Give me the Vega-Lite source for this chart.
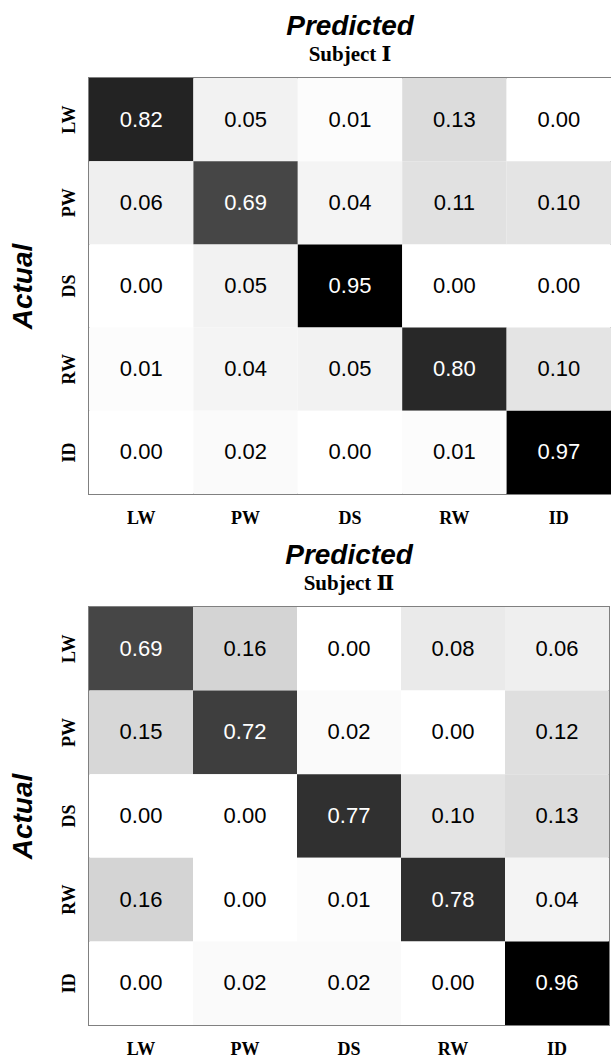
{
  "$schema": "https://vega.github.io/schema/vega-lite/v6.json",
  "padding": {"left": 7, "top": 12, "right": 0, "bottom": 0},
  "background": "white",
  "spacing": 13,
  "data": {"values": [
    {"subject": "I", "actual": "LW", "predicted": "LW", "value": 0.82},
    {"subject": "I", "actual": "LW", "predicted": "PW", "value": 0.05},
    {"subject": "I", "actual": "LW", "predicted": "DS", "value": 0.01},
    {"subject": "I", "actual": "LW", "predicted": "RW", "value": 0.13},
    {"subject": "I", "actual": "LW", "predicted": "ID", "value": 0.00},
    {"subject": "I", "actual": "PW", "predicted": "LW", "value": 0.06},
    {"subject": "I", "actual": "PW", "predicted": "PW", "value": 0.69},
    {"subject": "I", "actual": "PW", "predicted": "DS", "value": 0.04},
    {"subject": "I", "actual": "PW", "predicted": "RW", "value": 0.11},
    {"subject": "I", "actual": "PW", "predicted": "ID", "value": 0.10},
    {"subject": "I", "actual": "DS", "predicted": "LW", "value": 0.00},
    {"subject": "I", "actual": "DS", "predicted": "PW", "value": 0.05},
    {"subject": "I", "actual": "DS", "predicted": "DS", "value": 0.95},
    {"subject": "I", "actual": "DS", "predicted": "RW", "value": 0.00},
    {"subject": "I", "actual": "DS", "predicted": "ID", "value": 0.00},
    {"subject": "I", "actual": "RW", "predicted": "LW", "value": 0.01},
    {"subject": "I", "actual": "RW", "predicted": "PW", "value": 0.04},
    {"subject": "I", "actual": "RW", "predicted": "DS", "value": 0.05},
    {"subject": "I", "actual": "RW", "predicted": "RW", "value": 0.80},
    {"subject": "I", "actual": "RW", "predicted": "ID", "value": 0.10},
    {"subject": "I", "actual": "ID", "predicted": "LW", "value": 0.00},
    {"subject": "I", "actual": "ID", "predicted": "PW", "value": 0.02},
    {"subject": "I", "actual": "ID", "predicted": "DS", "value": 0.00},
    {"subject": "I", "actual": "ID", "predicted": "RW", "value": 0.01},
    {"subject": "I", "actual": "ID", "predicted": "ID", "value": 0.97},
    {"subject": "II", "actual": "LW", "predicted": "LW", "value": 0.69},
    {"subject": "II", "actual": "LW", "predicted": "PW", "value": 0.16},
    {"subject": "II", "actual": "LW", "predicted": "DS", "value": 0.00},
    {"subject": "II", "actual": "LW", "predicted": "RW", "value": 0.08},
    {"subject": "II", "actual": "LW", "predicted": "ID", "value": 0.06},
    {"subject": "II", "actual": "PW", "predicted": "LW", "value": 0.15},
    {"subject": "II", "actual": "PW", "predicted": "PW", "value": 0.72},
    {"subject": "II", "actual": "PW", "predicted": "DS", "value": 0.02},
    {"subject": "II", "actual": "PW", "predicted": "RW", "value": 0.00},
    {"subject": "II", "actual": "PW", "predicted": "ID", "value": 0.12},
    {"subject": "II", "actual": "DS", "predicted": "LW", "value": 0.00},
    {"subject": "II", "actual": "DS", "predicted": "PW", "value": 0.00},
    {"subject": "II", "actual": "DS", "predicted": "DS", "value": 0.77},
    {"subject": "II", "actual": "DS", "predicted": "RW", "value": 0.10},
    {"subject": "II", "actual": "DS", "predicted": "ID", "value": 0.13},
    {"subject": "II", "actual": "RW", "predicted": "LW", "value": 0.16},
    {"subject": "II", "actual": "RW", "predicted": "PW", "value": 0.00},
    {"subject": "II", "actual": "RW", "predicted": "DS", "value": 0.01},
    {"subject": "II", "actual": "RW", "predicted": "RW", "value": 0.78},
    {"subject": "II", "actual": "RW", "predicted": "ID", "value": 0.04},
    {"subject": "II", "actual": "ID", "predicted": "LW", "value": 0.00},
    {"subject": "II", "actual": "ID", "predicted": "PW", "value": 0.02},
    {"subject": "II", "actual": "ID", "predicted": "DS", "value": 0.02},
    {"subject": "II", "actual": "ID", "predicted": "RW", "value": 0.00},
    {"subject": "II", "actual": "ID", "predicted": "ID", "value": 0.96}
  ]},
  "config": {
    "view": {"stroke": "#808080", "strokeWidth": 2},
    "scale": {"bandPaddingInner": 0, "bandPaddingOuter": 0},
    "title": {
      "font": "Liberation Sans", "fontSize": 28, "fontWeight": "bold", "fontStyle": "italic", "color": "#000",
      "subtitleFont": "Liberation Serif, DejaVu Serif", "subtitleFontSize": 21, "subtitleFontWeight": "bold", "subtitleColor": "#000",
      "subtitlePadding": 3, "offset": 13, "anchor": "middle"
    },
    "axis": {
      "domain": false, "ticks": false, "grid": false,
      "labelFont": "Liberation Serif", "labelFontSize": 18, "labelFontWeight": "bold", "labelColor": "#000",
      "titleFont": "Liberation Sans", "titleFontSize": 28, "titleFontWeight": "bold", "titleFontStyle": "italic", "titleColor": "#000"
    }
  },
  "vconcat": [
    {
      "width": 522, "height": 416,
      "title": {"text": "Predicted", "subtitle": "Subject Ⅰ"},
      "transform": [{"filter": "datum.subject === 'I'"}],
      "encoding": {
        "x": {"field": "predicted", "type": "nominal", "sort": ["LW", "PW", "DS", "RW", "ID"], "axis": {"title": null, "labelAngle": 0, "labelPadding": 15}},
        "y": {"field": "actual", "type": "nominal", "sort": ["LW", "PW", "DS", "RW", "ID"], "axis": {"title": "Actual", "labelAngle": -90, "labelAlign": "center", "labelBaseline": "bottom", "labelPadding": 11, "titlePadding": 23}}
      },
      "layer": [
        {"mark": {"type": "rect"}, "encoding": {"color": {"field": "value", "type": "quantitative", "scale": {"domain": [0, 0.95], "range": ["#ffffff", "#000000"], "interpolate": "rgb", "clamp": true}, "legend": null}}},
        {"mark": {"type": "text", "font": "Liberation Sans", "fontSize": 22}, "encoding": {"text": {"field": "value", "type": "quantitative", "format": ".2f"}, "color": {"condition": {"test": "datum.value > 0.5", "value": "#ffffff"}, "value": "#000000"}}}
      ]
    },
    {
      "width": 520, "height": 418,
      "title": {"text": "Predicted", "subtitle": "Subject Ⅱ"},
      "transform": [{"filter": "datum.subject === 'II'"}],
      "encoding": {
        "x": {"field": "predicted", "type": "nominal", "sort": ["LW", "PW", "DS", "RW", "ID"], "axis": {"title": null, "labelAngle": 0, "labelPadding": 15}},
        "y": {"field": "actual", "type": "nominal", "sort": ["LW", "PW", "DS", "RW", "ID"], "axis": {"title": "Actual", "labelAngle": -90, "labelAlign": "center", "labelBaseline": "bottom", "labelPadding": 11, "titlePadding": 23}}
      },
      "layer": [
        {"mark": {"type": "rect"}, "encoding": {"color": {"field": "value", "type": "quantitative", "scale": {"domain": [0, 0.95], "range": ["#ffffff", "#000000"], "interpolate": "rgb", "clamp": true}, "legend": null}}},
        {"mark": {"type": "text", "font": "Liberation Sans", "fontSize": 22}, "encoding": {"text": {"field": "value", "type": "quantitative", "format": ".2f"}, "color": {"condition": {"test": "datum.value > 0.5", "value": "#ffffff"}, "value": "#000000"}}}
      ]
    }
  ]
}
